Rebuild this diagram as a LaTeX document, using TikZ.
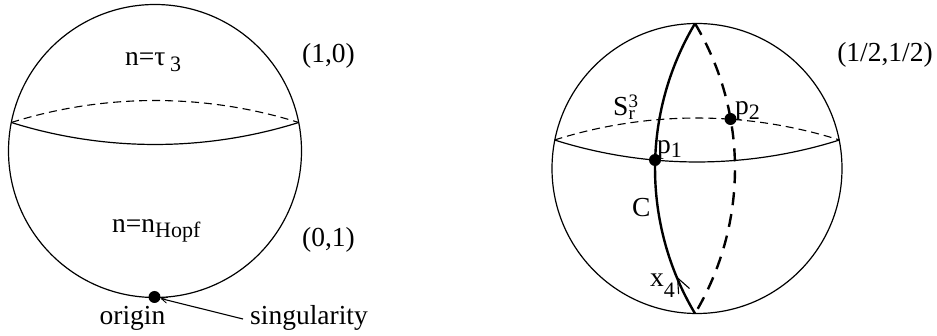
\documentclass[tikz,border=0pt]{standalone}
\usepackage{fontspec}
\setmainfont{Liberation Serif}
\usetikzlibrary{arrows.meta}
\newcommand\lowtext[2]{\raisebox{-#1pt}{\fontsize{22}{22}\selectfont #2}}
\begin{document}
\begin{tikzpicture}[x=1pt,y=-1pt,
  sphere/.style={circle,draw,line width=1.2pt,inner sep=0pt,outer sep=0pt},
  dot/.style={circle,fill,inner sep=0pt,minimum size=12pt},
  lbl/.style={inner sep=0pt,anchor=base west,font=\fontsize{27.5}{30}\selectfont},
  lblc/.style={inner sep=0pt,anchor=base,font=\fontsize{27.5}{30}\selectfont},
  eqsolid/.style={line width=1.2pt},
  eqdash/.style={line width=1.1pt,dash pattern=on 8pt off 5pt},
  mersolid/.style={line width=2.4pt},
  merdash/.style={line width=2.4pt,dash pattern=on 13pt off 9pt},
  barb/.style={line width=1.1pt,line join=miter},
]
\useasboundingbox (0,0) rectangle (937,336);

% left sphere
\node[sphere,minimum size=293pt] (S1) at (155,151) {};
\coordinate (L1) at (11.3,122.5);
\coordinate (R1) at (298.7,122.5);
\draw[eqdash] (L1) .. controls (104.8,93.2) and (205.2,93.2) .. (R1);
\draw[eqsolid] (L1) .. controls (104.8,151.8) and (205.2,151.8) .. (R1);
\node[lbl] (t1) at (125,66) {n=τ\,\lowtext{6}{3}};
\node[lbl] (t2) at (112,233) {n=n\lowtext{5}{Hopf}};
\node[lblc] (t3) at (328.5,63) {(1,0)};
\node[lblc] (t4) at (328.5,247) {(0,1)};
\node[dot] (O) at (154.5,297) {};
\node[lblc] (t5) at (132.5,325) {origin};
\node[lbl] (t6) at (250,325) {singularity};
\coordinate (sg) at (243,319);
\draw[line width=1.1pt,-{Straight Barb[length=6pt,width=6pt,line width=0.8pt]}] (sg) -- (O);

% right sphere
\node[sphere,minimum size=290pt] (S2) at (697,168.5) {};
\coordinate (L2) at (554.5,140);
\coordinate (R2) at (839.5,140);
\draw[eqdash] (L2) .. controls (647.3,110.7) and (746.7,110.7) .. (R2);
\draw[eqsolid] (L2) .. controls (647.3,169.3) and (746.7,169.3) .. (R2);
\coordinate (T) at (695,23.5);
\coordinate (B) at (695,313.5);
\draw[merdash] (T) .. controls (748.3,112.8) and (748.3,224.2) .. (B);
\draw[mersolid] (B) .. controls (641.7,224.2) and (641.7,112.8) .. (T);
% open arrowhead on C
\coordinate (tip) at (677.6,278);
\coordinate (armL) at (678.6,294);
\coordinate (armR) at (689.5,288.5);
\draw[barb] (armL) -- (tip) -- (armR);
\node[dot] (P1) at (655,160) {};
\node[dot] (P2) at (730.5,119) {};
\node[lbl] (t7) at (613,116) {S\raisebox{-4pt}{\fontsize{19}{16.5}\selectfont\shortstack[l]{3\\r}}};
\node[lbl] (t8) at (735,115) {p\lowtext{5}{2}};
\node[lbl] (t9) at (657,154) {p\lowtext{4}{1}};
\node[lbl] (t10) at (632,217) {C};
\node[lbl] (t11) at (650,287) {x\lowtext{11}{4}};
\node[lblc] (t12) at (885,62) {(1/2,1/2)};
\end{tikzpicture}
\end{document}
